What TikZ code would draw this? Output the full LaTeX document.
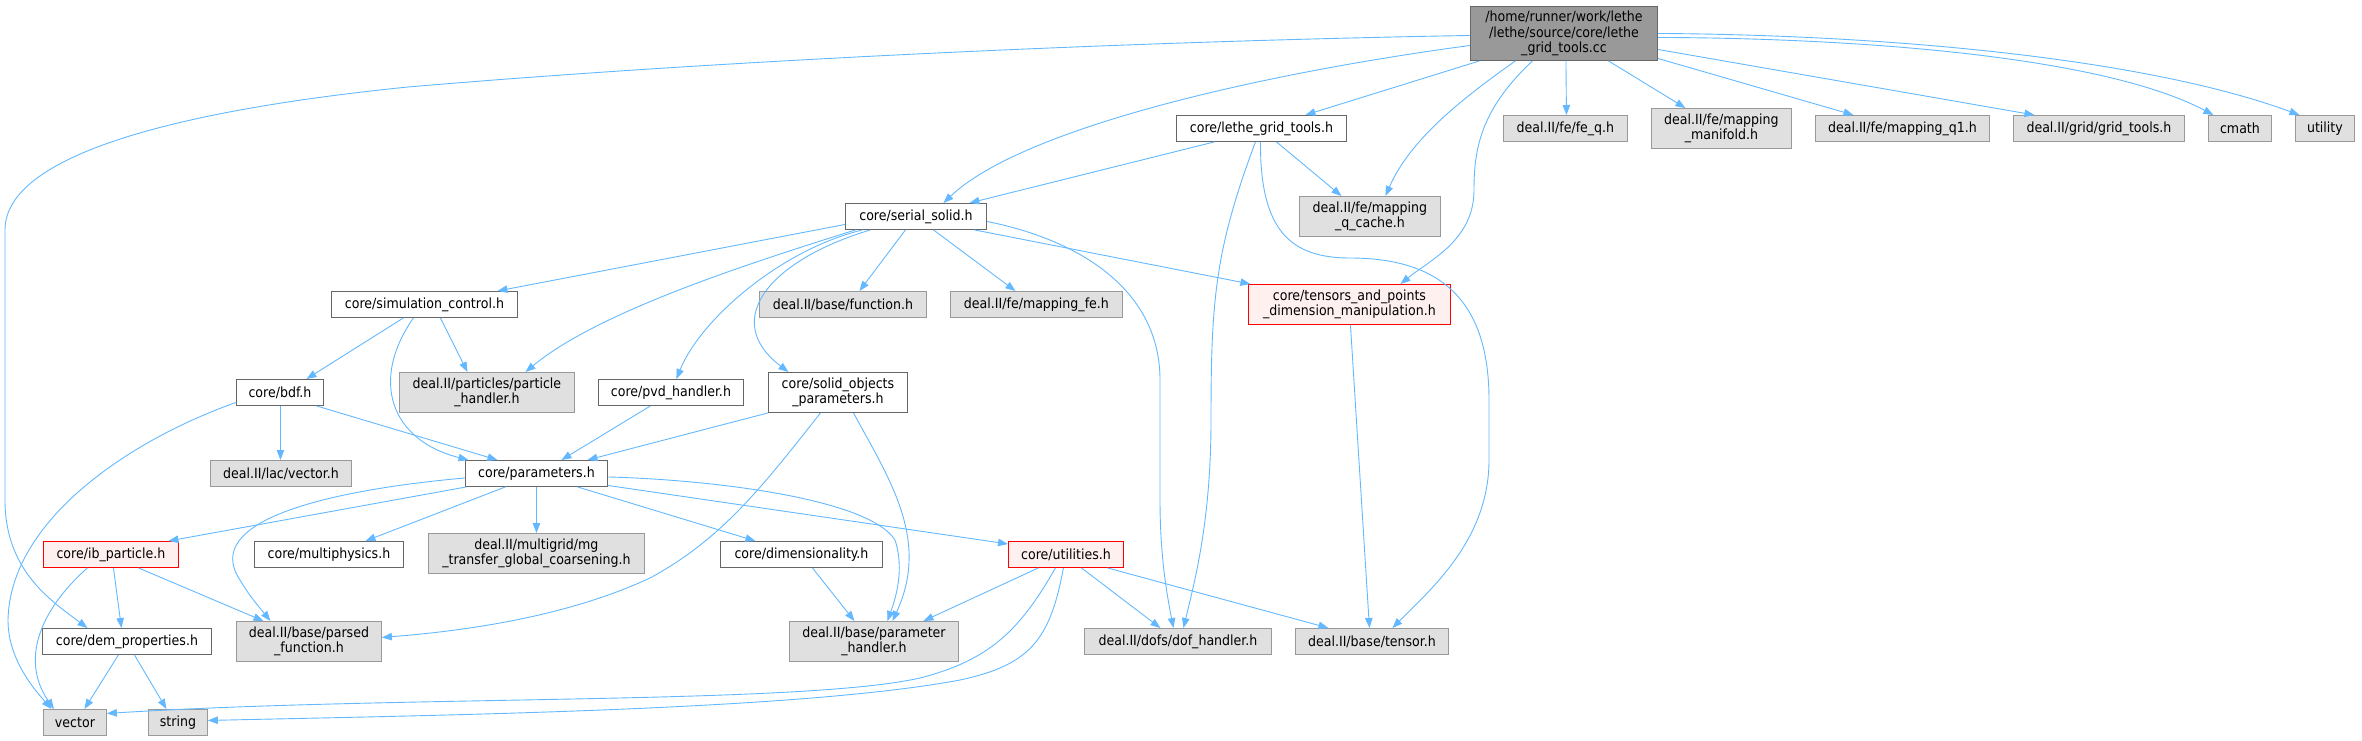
\documentclass[tikz,border=0pt]{standalone}
\usepackage{fontspec}
\setmainfont{DejaVu Sans Condensed}
\usetikzlibrary{arrows.meta}
\definecolor{edgec}{HTML}{63B8FF}
\definecolor{wb}{HTML}{666666}
\definecolor{gb}{HTML}{999999}
\definecolor{gf}{HTML}{E0E0E0}
\definecolor{rf}{HTML}{FFF0F0}
\definecolor{rb}{HTML}{FF0000}
\newcommand{\nfs}{\fontsize{14}{15.5}\selectfont}
\tikzset{
  box/.style={draw, rectangle, inner sep=0pt, align=center, anchor=north west, font=\nfs, line width=0.9pt},
  wbox/.style={box, draw=wb, fill=white},
  gbox/.style={box, draw=gb, fill=gf},
  rbox/.style={box, draw=rb, fill=rf},
  mbox/.style={box, draw=wb, fill=gb},
  edge/.style={draw=edgec, line width=0.9pt, -{Triangle[length=10pt,width=7.5pt]}},
}
\begin{document}
\begin{tikzpicture}[x=1pt,y=1pt]
\useasboundingbox (0,0) rectangle (2362,-740);
% nodes
\node[mbox, minimum width=187pt, minimum height=54pt] (main) at (1470,-6) {/home/runner/work/lethe\\/lethe/source/core/lethe\\\_grid\_tools.cc};
\node[wbox, minimum width=170pt, minimum height=26pt] (lethe) at (1176,-115) {core/lethe\_grid\_tools.h};
\node[gbox, minimum width=141pt, minimum height=40pt] (qcache) at (1299,-196) {deal.II/fe/mapping\\\_q\_cache.h};
\node[gbox, minimum width=124pt, minimum height=26pt] (feq) at (1503,-115) {deal.II/fe/fe\_q.h};
\node[gbox, minimum width=140pt, minimum height=40pt] (manifold) at (1651,-108) {deal.II/fe/mapping\\\_manifold.h};
\node[gbox, minimum width=174pt, minimum height=26pt] (qone) at (1815,-115) {deal.II/fe/mapping\_q1.h};
\node[gbox, minimum width=171pt, minimum height=26pt] (gridtools) at (2013,-115) {deal.II/grid/grid\_tools.h};
\node[gbox, minimum width=63pt, minimum height=26pt] (cmath) at (2208,-115) {cmath};
\node[gbox, minimum width=59pt, minimum height=26pt] (utility) at (2295,-115) {utility};
\node[wbox, minimum width=141pt, minimum height=26pt] (serial) at (845,-203) {core/serial\_solid.h};
\node[wbox, minimum width=186pt, minimum height=26pt] (simctl) at (331,-291) {core/simulation\_control.h};
\node[gbox, minimum width=167pt, minimum height=26pt] (function) at (759,-291) {deal.II/base/function.h};
\node[gbox, minimum width=172pt, minimum height=26pt] (mappingfe) at (950,-291) {deal.II/fe/mapping\_fe.h};
\node[rbox, minimum width=202pt, minimum height=40pt] (tp) at (1248,-284) {core/tensors\_and\_points\\\_dimension\_manipulation.h};
\node[wbox, minimum width=87pt, minimum height=26pt] (bdf) at (236,-379) {core/bdf.h};
\node[gbox, minimum width=175pt, minimum height=40pt] (particle) at (399,-372) {deal.II/particles/particle\\\_handler.h};
\node[wbox, minimum width=145pt, minimum height=26pt] (pvd) at (598,-379) {core/pvd\_handler.h};
\node[wbox, minimum width=139pt, minimum height=40pt] (solidobj) at (768,-372) {core/solid\_objects\\\_parameters.h};
\node[gbox, minimum width=141pt, minimum height=26pt] (lacvector) at (210,-460) {deal.II/lac/vector.h};
\node[wbox, minimum width=142pt, minimum height=26pt] (params) at (465,-460) {core/parameters.h};
\node[rbox, minimum width=135pt, minimum height=26pt] (ib) at (43,-541) {core/ib\_particle.h};
\node[wbox, minimum width=149pt, minimum height=26pt] (multiphys) at (254,-541) {core/multiphysics.h};
\node[gbox, minimum width=216pt, minimum height=40pt] (mg) at (428,-533) {deal.II/multigrid/mg\\\_transfer\_global\_coarsening.h};
\node[wbox, minimum width=162pt, minimum height=26pt] (dimens) at (720,-541) {core/dimensionality.h};
\node[rbox, minimum width=115pt, minimum height=26pt] (util) at (1008,-541) {core/utilities.h};
\node[wbox, minimum width=169pt, minimum height=26pt] (dem) at (42,-628) {core/dem\_properties.h};
\node[gbox, minimum width=145pt, minimum height=40pt] (parsed) at (236,-621) {deal.II/base/parsed\\\_function.h};
\node[gbox, minimum width=169pt, minimum height=40pt] (paramh) at (789,-621) {deal.II/base/parameter\\\_handler.h};
\node[gbox, minimum width=187pt, minimum height=26pt] (dof) at (1084,-628) {deal.II/dofs/dof\_handler.h};
\node[gbox, minimum width=153pt, minimum height=26pt] (tensor) at (1295,-628) {deal.II/base/tensor.h};
\node[gbox, minimum width=63pt, minimum height=26pt] (vector) at (43,-709) {vector};
\node[gbox, minimum width=59pt, minimum height=26pt] (string) at (148,-709) {string};
% edges from main
\draw[edge] ([yshift=-2pt]main.west) .. controls (1100,-42) and (700,-62) .. (408,-87) .. controls (200,-108) and (5,-150) .. (5,-230) -- (5,-500) .. controls (5,-570) and (50,-600) .. ([xshift=-39.5pt]dem.north);
\draw[edge] ([yshift=-12pt]main.west) .. controls (1250,-75) and (1020,-130) .. ([xshift=27.5pt]serial.north);
\draw[edge] ([xshift=-84.5pt]main.south) -- ([xshift=44pt]lethe.north);
\draw[edge] ([xshift=-48.5pt]main.south) .. controls (1460,-100) and (1410,-140) .. ([xshift=15.5pt]qcache.north);
\draw[edge] ([xshift=-31.5pt]main.south) .. controls (1480,-110) and (1474,-150) .. (1474,-190) .. controls (1474,-240) and (1430,-260) .. ([xshift=51pt]tp.north);
\draw[edge] ([xshift=2pt]main.south) -- ([xshift=1pt]feq.north);
\draw[edge] ([xshift=44.5pt]main.south) -- ([xshift=-36pt]manifold.north);
\draw[edge] ([yshift=-25pt]main.east) -- ([xshift=-49pt]qone.north);
\draw[edge] ([yshift=-16pt]main.east) -- ([xshift=-64.5pt]gridtools.north);
\draw[edge] ([yshift=-4pt]main.east) .. controls (1850,-38) and (2100,-55) .. ([xshift=-26.5pt]cmath.north);
\draw[edge] (main.east) .. controls (1900,-35) and (2150,-60) .. ([xshift=-25.5pt]utility.north);
% lethe
\draw[edge] ([xshift=-47pt]lethe.south) -- ([xshift=53.5pt]serial.north);
\draw[edge] ([xshift=15pt]lethe.south) -- ([xshift=-28.5pt]qcache.north);
\draw[edge] ([xshift=-6pt]lethe.south) .. controls (1215,-250) and (1211,-300) .. (1211,-420) .. controls (1211,-520) and (1195,-580) .. ([xshift=5.5pt]dof.north);
\draw[edge] ([xshift=-1pt]lethe.south) .. controls (1260,-230) and (1290,-258) .. (1350,-258) .. controls (1440,-258) and (1489,-300) .. (1489,-400) -- (1489,-460) .. controls (1489,-540) and (1430,-590) .. ([xshift=20.5pt]tensor.north);
% serial
\draw[edge] ([yshift=-8pt]serial.west) -- ([xshift=73pt]simctl.north);
\draw[edge] ([xshift=-60.5pt]serial.south) .. controls (760,-260) and (600,-310) .. ([xshift=38.5pt]particle.north);
\draw[edge] ([xshift=-53.5pt]serial.south) .. controls (780,-250) and (700,-320) .. ([xshift=5.5pt]pvd.north);
\draw[edge] ([xshift=-45.5pt]serial.south) .. controls (770,-260) and (720,-320) .. ([xshift=-49.5pt]solidobj.north);
\draw[edge] ([xshift=-10.5pt]serial.south) -- ([xshift=16.5pt]function.north);
\draw[edge] ([xshift=17.5pt]serial.south) -- ([xshift=-21pt]mappingfe.north);
\draw[edge] ([xshift=58.5pt]serial.south) -- ([xshift=-99pt]tp.north);
\draw[edge] ([yshift=-5pt]serial.east) .. controls (1080,-240) and (1160,-290) .. (1160,-380) -- (1160,-500) .. controls (1160,-560) and (1168,-600) .. ([xshift=-4.5pt]dof.north);
% simulation control
\draw[edge] ([xshift=-21pt]simctl.south) -- ([xshift=26.5pt]bdf.north);
\draw[edge] ([xshift=-11pt]simctl.south) .. controls (370,-380) and (390,-440) .. ([xshift=-68pt]params.north);
\draw[edge] ([xshift=16pt]simctl.south) -- ([xshift=-19.5pt]particle.north);
% bdf
\draw[edge] ([xshift=0.5pt]bdf.south) -- ([xshift=-0.5pt]lacvector.north);
\draw[edge] ([xshift=36.5pt]bdf.south) -- ([xshift=-39pt]params.north);
\draw[edge] ([yshift=-10pt]bdf.west) .. controls (130,-440) and (10,-520) .. (8,-620) .. controls (8,-660) and (35,-690) .. ([xshift=-23.5pt]vector.north);
% pvd, solid objects
\draw[edge] ([xshift=-20.5pt]pvd.south) -- ([xshift=25pt]params.north);
\draw[edge] (solidobj.south west) -- ([xshift=51pt]params.north);
\draw[edge] ([xshift=-17.5pt]solidobj.south) .. controls (760,-490) and (720,-540) .. (650,-578) .. controls (560,-620) and (450,-632) .. ([yshift=4pt]parsed.east);
\draw[edge] ([xshift=15.5pt]solidobj.south) .. controls (890,-480) and (930,-540) .. ([xshift=18.5pt]paramh.north);
% parameters
\draw[edge] ([xshift=-70pt]params.south) -- ([xshift=57.5pt]ib.north);
\draw[edge] ([yshift=-4.5pt]params.west) .. controls (330,-490) and (200,-520) .. (240,-580) .. controls (250,-597) and (260,-608) .. ([xshift=-38.5pt]parsed.north);
\draw[edge] ([xshift=-31pt]params.south) -- ([xshift=36.5pt]multiphys.north);
\draw[edge] (params) -- (mg);
\draw[edge] ([xshift=41pt]params.south) -- ([xshift=-46pt]dimens.north);
\draw[edge] ([yshift=-12pt]params.east) -- ([yshift=10.5pt]util.west);
\draw[edge] ([yshift=-3.5pt]params.east) .. controls (720,-480) and (870,-500) .. (895,-540) .. controls (905,-570) and (895,-600) .. ([xshift=13.5pt]paramh.north);
% ib particle
\draw[edge] ([xshift=-23.5pt]ib.south) .. controls (40,-610) and (20,-660) .. ([xshift=-21pt]vector.north);
\draw[edge] ([xshift=2.5pt]ib.south) -- ([xshift=-5.5pt]dem.north);
\draw[edge] ([xshift=27.5pt]ib.south) -- ([xshift=-45.5pt]parsed.north);
% dem
\draw[edge] ([xshift=-8.5pt]dem.south) -- ([xshift=9.5pt]vector.north);
\draw[edge] ([xshift=7.5pt]dem.south) -- ([xshift=-11.5pt]string.north);
% dimensionality
\draw[edge] ([xshift=11pt]dimens.south) -- ([xshift=-19.5pt]paramh.north);
% utilities
\draw[edge] ([xshift=-27.5pt]util.south) -- ([xshift=49.5pt]paramh.north);
\draw[edge] ([xshift=15.5pt]util.south) -- ([xshift=-17.5pt]dof.north);
\draw[edge] ([xshift=41.5pt]util.south) -- ([xshift=-43.5pt]tensor.north);
\draw[edge] ([xshift=-10.5pt]util.south) .. controls (1020,-630) and (990,-660) .. (920,-678) .. controls (800,-705) and (400,-695) .. ([yshift=9pt]vector.east);
\draw[edge] ([xshift=-2.5pt]util.south) .. controls (1050,-640) and (1030,-665) .. (960,-680) .. controls (800,-710) and (450,-715) .. ([yshift=2pt]string.east);
% tensors and points
\draw[edge] ([xshift=1pt]tp.south) -- ([xshift=-2.5pt]tensor.north);
\end{tikzpicture}
\end{document}
